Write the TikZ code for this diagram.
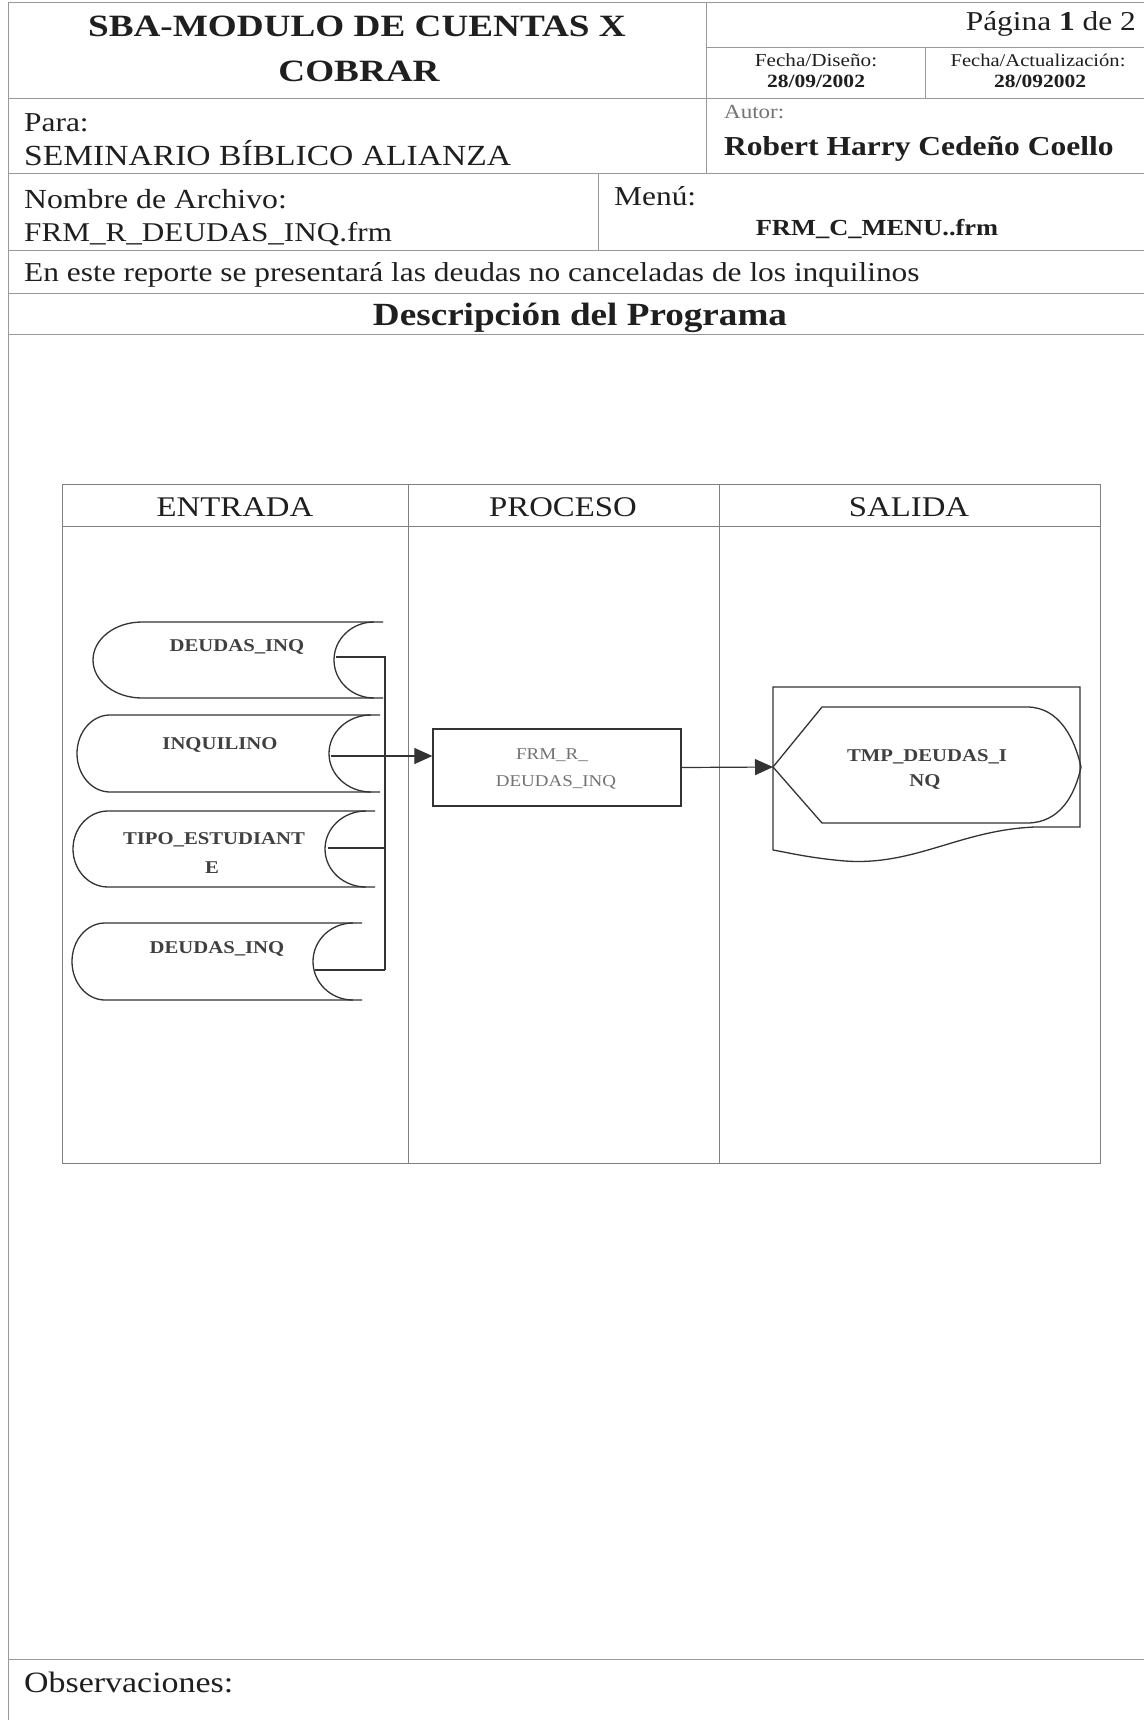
\documentclass[tikz,border=0pt]{standalone}
\usepackage{graphicx}
\usepackage{fontspec}
\setmainfont{Liberation Serif}
\usetikzlibrary{arrows.meta}
\newcommand\fs[1]{\fontsize{#1}{#1}\selectfont}
\newcommand\hs[2][1.15]{\scalebox{#1}[1]{#2}}
% cylinder (stored data): #1 leftmost, #2 top-line start, #3 right end, #4 concave leftmost, #5 top, #6 bottom
\newcommand\storedata[6]{%
  \draw[shp] (#3,#5) -- (#2,#5) arc[start angle=270, end angle=90, x radius={#2-#1}, y radius={(#6-#5)/2}] -- (#3,#6);
  \draw[shp] (#3-9,#5) arc[start angle=270, end angle=90, x radius={#3-9-#4}, y radius={(#6-#5)/2}];
}
\begin{document}
\begin{tikzpicture}[x=1pt,y=-1pt,
  frame/.style={draw=black!40, line width=1pt},
  lane/.style={draw=black!50, line width=0.9pt},
  shp/.style={draw=black!80, line width=1.3pt},
  conn/.style={draw=black!80, line width=1.2pt},
  arr/.style={conn, -{Triangle[length=18pt,width=16pt]}},
  txt/.style={inner sep=0pt, text=black!88},
  lbl/.style={inner sep=0pt, text=black!75},
  gtxt/.style={inner sep=0pt, text=black!55}
]
\useasboundingbox (0,0) rectangle (1144,1720);
\fill[white] (0,0) rectangle (1144,1720);

% ---------- header frame ----------
\draw[frame] (8,3) -- (1144,3);
\draw[frame] (706,48) -- (1144,48);
\draw[frame] (8,99) -- (1144,99);
\draw[frame] (8,174) -- (1144,174);
\draw[frame] (8,251) -- (1144,251);
\draw[frame] (8,293) -- (1144,293);
\draw[frame] (8,334) -- (1144,334);
\draw[frame] (8,3) -- (8,1720);
\draw[frame] (706,3) -- (706,174);
\draw[frame] (925,48) -- (925,99);
\draw[frame] (598,174) -- (598,251);
\draw[frame] (8,1659) -- (1144,1659);

% ---------- header texts ----------
\node[txt, anchor=base] (title1) at (357,37) {\fs{31}\bfseries\hs[1.2]{SBA-MODULO DE CUENTAS X}};
\node[txt, anchor=base] (title2) at (359,82) {\fs{31}\bfseries\hs[1.2]{COBRAR}};
\node[txt, anchor=base east] (pag) at (1136,31) {\fs{27.3}\hs{Página \textbf{1} de 2}};
\node[txt, anchor=base] (fd) at (816,67) {\fs{18.4}\hs{Fecha/Diseño:}};
\node[txt, anchor=base] (fdd) at (816,88) {\fs{18.7}\bfseries\hs{28/09/2002}};
\node[txt, anchor=base] (fa) at (1038,67) {\fs{17.9}\hs{Fecha/Actualización:}};
\node[txt, anchor=base] (fad) at (1040,88) {\fs{18.7}\bfseries\hs{28/092002}};
\node[txt, anchor=base west] (para) at (24,132) {\fs{27.3}\hs{Para:}};
\node[txt, anchor=base west] (sem) at (24,166) {\fs{29.2}\hs{SEMINARIO BÍBLICO ALIANZA}};
\node[gtxt, anchor=base west] (autor) at (724,119) {\fs{20}\hs{Autor:}};
\node[txt, anchor=base west] (rob) at (724,156) {\fs{27.4}\bfseries\hs{Robert Harry Cedeño Coello}};
\node[txt, anchor=base west] (nom) at (24,209) {\fs{27.6}\hs{Nombre de Archivo:}};
\node[txt, anchor=base west] (frm) at (24,242) {\fs{27.1}\hs{FRM\_R\_DEUDAS\_INQ.frm}};
\node[txt, anchor=base west] (menu) at (614,206) {\fs{27.3}\hs{Menú:}};
\node[txt, anchor=base] (frmc) at (877,236) {\fs{23}\bfseries\hs{FRM\_C\_MENU..frm}};
\node[txt, anchor=base west] (desc) at (24,281) {\fs{27.3}\hs{En este reporte se presentará las deudas no canceladas de los inquilinos}};
\node[txt, anchor=base] (prog) at (580,325) {\fs{32.3}\bfseries\hs{Descripción del Programa}};
\node[txt, anchor=base west] (obs) at (24,1692) {\fs{29.5}\hs{Observaciones:}};

% ---------- swimlanes ----------
\draw[lane] (62,484) rectangle (1100,1163);
\draw[lane] (62,526) -- (1100,526);
\draw[lane] (408,484) -- (408,1163);
\draw[lane] (719,484) -- (719,1163);
\node[txt, anchor=base] (ent) at (235,516) {\fs{28.5}\hs{ENTRADA}};
\node[txt, anchor=base] (pro) at (563,516) {\fs{28.5}\hs{PROCESO}};
\node[txt, anchor=base] (sal) at (909,516) {\fs{28.5}\hs{SALIDA}};

% ---------- input stored data ----------
\storedata{93}{142}{383}{334}{622}{698}
\storedata{77}{110}{380}{329}{715}{792}
\storedata{73}{108}{375}{325}{811}{887}
\storedata{72}{105}{362}{313}{923}{1000}
\node[lbl, anchor=base] (l1) at (237,651) {\fs{18}\bfseries\hs{DEUDAS\_INQ}};
\node[lbl, anchor=base] (l2) at (220,749) {\fs{18}\bfseries\hs{INQUILINO}};
\node[lbl, anchor=base] (l3a) at (214,844) {\fs{18}\bfseries\hs{TIPO\_ESTUDIANT}};
\node[lbl, anchor=base] (l3b) at (212,873) {\fs{18}\bfseries\hs{E}};
\node[lbl, anchor=base] (l4) at (217,953) {\fs{18}\bfseries\hs{DEUDAS\_INQ}};

% connector anchors
\coordinate (c1) at (336,657);
\coordinate (c2) at (331,756);
\coordinate (c3) at (328,848);
\coordinate (c4) at (315,970);
\coordinate (b1) at (385,657);
\coordinate (b3) at (385,848);
\coordinate (b4) at (385,970);

% ---------- process ----------
\node[shp, minimum width=248pt, minimum height=77pt, inner sep=0pt] (proc) at (557,767.5) {};
\node[gtxt, anchor=base] (p1) at (552,759) {\fs{16.5}\hs{FRM\_R\_}};
\node[gtxt, anchor=base] (p2) at (556,786) {\fs{16.5}\hs{DEUDAS\_INQ}};

% ---------- output ----------
\draw[shp] (773,850) -- (773,687) -- (1080,687) -- (1080,827) -- (1035,827)
  .. controls (960,830) and (915,866) .. (845,861)
  .. controls (810,858) and (790,853) .. (773,850);
\coordinate (dl) at (773,767);
\draw[shp] (dl) -- (822,707) -- (1027,707) .. controls (1060,707) and (1075,740) .. (1081,767)
  .. controls (1075,795) and (1060,823) .. (1027,823) -- (822,823) -- cycle;
\node[lbl, anchor=base] (t1) at (927,761) {\fs{18}\bfseries\hs{TMP\_DEUDAS\_I}};
\node[lbl, anchor=base] (t2) at (925,786) {\fs{18}\bfseries\hs{NQ}};

% ---------- connectors ----------
\draw[conn] (c1) -- (b1) -- (b4);
\draw[conn] (c3) -- (b3);
\draw[conn] (c4) -- (b4);
\draw[arr] (c2) -- (c2 -| proc.west);
\draw[arr] (proc.east) -- (dl);
\end{tikzpicture}
\end{document}
